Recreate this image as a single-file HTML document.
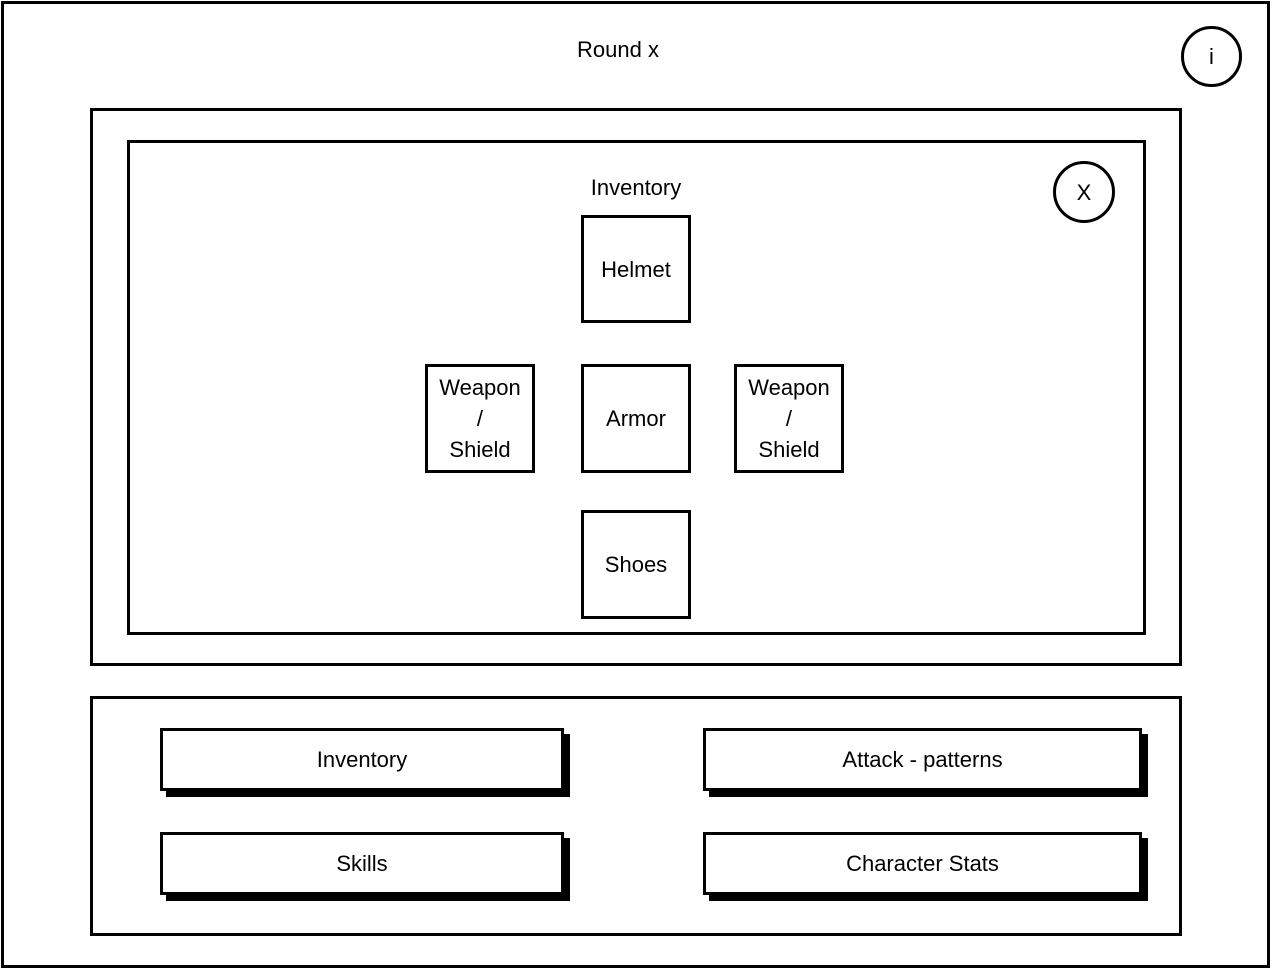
<!DOCTYPE html>
<html><head><style>
body{margin:0;width:1272px;height:970px;background:#fff;position:relative;font-family:"Liberation Sans",sans-serif;overflow:hidden}
.b{position:absolute;border:3px solid #000;box-sizing:border-box}
.t{position:absolute;font-size:22px;color:#000;text-align:center}
.box{display:flex;align-items:center;justify-content:center;text-align:center;font-size:22px;line-height:31px}
.btn{box-shadow:6px 6px 0 #000}
.c{border-radius:50%}
</style></head><body>
<div class="b" style="left:1px;top:1px;width:1269px;height:967px"></div>
<div class="t" style="left:518px;top:37px;width:200px">Round x</div>
<div class="b c box" style="left:1181px;top:26px;width:61px;height:61px">i</div>
<div class="b" style="left:90px;top:108px;width:1092px;height:558px"></div>
<div class="b" style="left:127px;top:140px;width:1019px;height:495px"></div>
<div class="b c box" style="left:1053px;top:161px;width:62px;height:62px">X</div>
<div class="t" style="left:536px;top:175px;width:200px">Inventory</div>
<div class="b box" style="left:581px;top:215px;width:110px;height:108px">Helmet</div>
<div class="b box" style="left:581px;top:364px;width:110px;height:109px">Armor</div>
<div class="b box" style="left:425px;top:364px;width:110px;height:109px">Weapon<br>/<br>Shield</div>
<div class="b box" style="left:734px;top:364px;width:110px;height:109px">Weapon<br>/<br>Shield</div>
<div class="b box" style="left:581px;top:510px;width:110px;height:109px">Shoes</div>
<div class="b" style="left:90px;top:696px;width:1092px;height:240px"></div>
<div class="b box btn" style="left:160px;top:728px;width:404px;height:63px">Inventory</div>
<div class="b box btn" style="left:703px;top:728px;width:439px;height:63px">Attack - patterns</div>
<div class="b box btn" style="left:160px;top:832px;width:404px;height:63px">Skills</div>
<div class="b box btn" style="left:703px;top:832px;width:439px;height:63px">Character Stats</div>
</body></html>
